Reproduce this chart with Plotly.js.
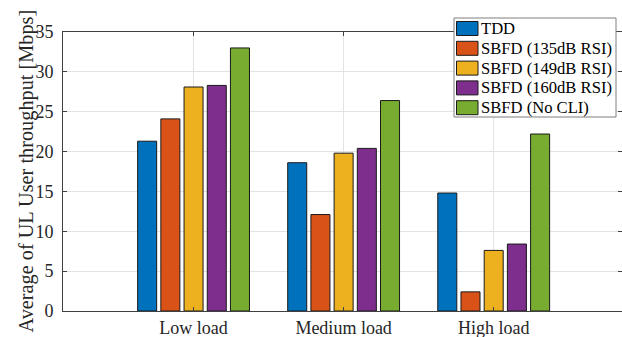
<!DOCTYPE html>
<html>
<head>
<meta charset="utf-8">
<script src="https://cdn.plot.ly/plotly-3.0.1.min.js"></script>
<style>html,body{margin:0;padding:0;background:#fff;}#chart{width:622px;height:337px;}</style>
</head>
<body>
<div id="chart"></div>
<script>
const categories = ["Low load", "Medium load", "High load"];
const seriesNames = ["TDD", "SBFD (135dB RSI)", "SBFD (149dB RSI)", "SBFD (160dB RSI)", "SBFD (No CLI)"];
const tdd = [21.3, 18.6, 14.8];
const sbfd135 = [24.1, 12.1, 2.4];
const sbfd149 = [28.1, 19.8, 7.6];
const sbfd160 = [28.3, 20.4, 8.4];
const sbfdNoCli = [33.0, 26.4, 22.2];
const yTicks = [0, 5, 10, 15, 20, 25, 30, 35];
const yTitle = "Average of UL User throughput [Mbps]";

const colors = ["#0072BD", "#D95319", "#EDB120", "#7E2F8E", "#77AC30"];
const seriesValues = [tdd, sbfd135, sbfd149, sbfd160, sbfdNoCli];
const xPos = categories.map((c, i) => i + 1);

const traces = seriesValues.map((vals, k) => ({
  type: "bar",
  name: seriesNames[k],
  x: xPos,
  y: vals,
  showlegend: false,
  marker: {color: colors[k], line: {color: "#1a1a1a", width: 1}},
  hoverinfo: "y+name"
}));

const serif = "Liberation Serif";

// plot area geometry (pixels) used to place legend box and axis title in paper units
const W = 622, H = 337, ML = 63, MR = 0, MT = 32, MB = 26;
const pw = W - ML - MR, ph = H - MT - MB;
const px = p => (p - ML) / pw;
const py = p => (H - MB - p) / ph;

// legend (drawn as a MATLAB-style box with swatches)
const shapes = [{
  type: "rect", xref: "paper", yref: "paper", layer: "above",
  x0: px(454), x1: px(616), y0: py(117), y1: py(18),
  fillcolor: "#ffffff", line: {color: "#7f7f7f", width: 1}
}];
const annotations = [];
seriesNames.forEach((name, k) => {
  const cy = 28.5 + k * 19.8;
  shapes.push({
    type: "rect", xref: "paper", yref: "paper", layer: "above",
    x0: px(456.5), x1: px(478), y0: py(cy + 7), y1: py(cy - 7),
    fillcolor: colors[k], line: {color: "#1a1a1a", width: 1}
  });
  annotations.push({
    xref: "paper", yref: "paper", x: px(478.5), y: py(cy),
    xanchor: "left", yanchor: "middle", showarrow: false,
    text: name, font: {family: serif, size: 16.6, color: "#000"}
  });
});

// y-axis title
annotations.push({
  xref: "paper", yref: "paper", x: px(25.5), y: py(171),
  xanchor: "center", yanchor: "middle", showarrow: false, textangle: -90,
  text: yTitle, font: {family: serif, size: 20.3, color: "#262626"}
});

const layout = {
  width: W, height: H,
  margin: {l: ML, r: MR, t: MT, b: MB, pad: 0},
  paper_bgcolor: "#fff", plot_bgcolor: "#fff",
  barmode: "group", bargap: 0.227, bargroupgap: 0.18,
  font: {family: serif, color: "#262626", size: 18},
  showlegend: false,
  shapes: shapes,
  annotations: annotations,
  xaxis: {
    range: [0.13, 3.855],
    tickmode: "array", tickvals: xPos, ticktext: categories,
    ticks: "inside", ticklen: 4, tickcolor: "#404040",
    showline: true, linecolor: "#404040", linewidth: 1, mirror: "ticks",
    showgrid: true, gridcolor: "#e3e3e3", gridwidth: 1,
    zeroline: false, ticklabelstandoff: 0,
    tickfont: {family: serif, size: 18, color: "#262626"}
  },
  yaxis: {
    range: [0, 35],
    tickmode: "array", tickvals: yTicks,
    ticks: "inside", ticklen: 4, tickcolor: "#404040",
    showline: true, linecolor: "#404040", linewidth: 1, mirror: "ticks",
    showgrid: true, gridcolor: "#e3e3e3", gridwidth: 1,
    zeroline: false, ticklabelstandoff: 5,
    tickfont: {family: serif, size: 18, color: "#262626"}
  }
};

Plotly.newPlot("chart", traces, layout, {displayModeBar: false, staticPlot: true});
</script>
</body>
</html>
